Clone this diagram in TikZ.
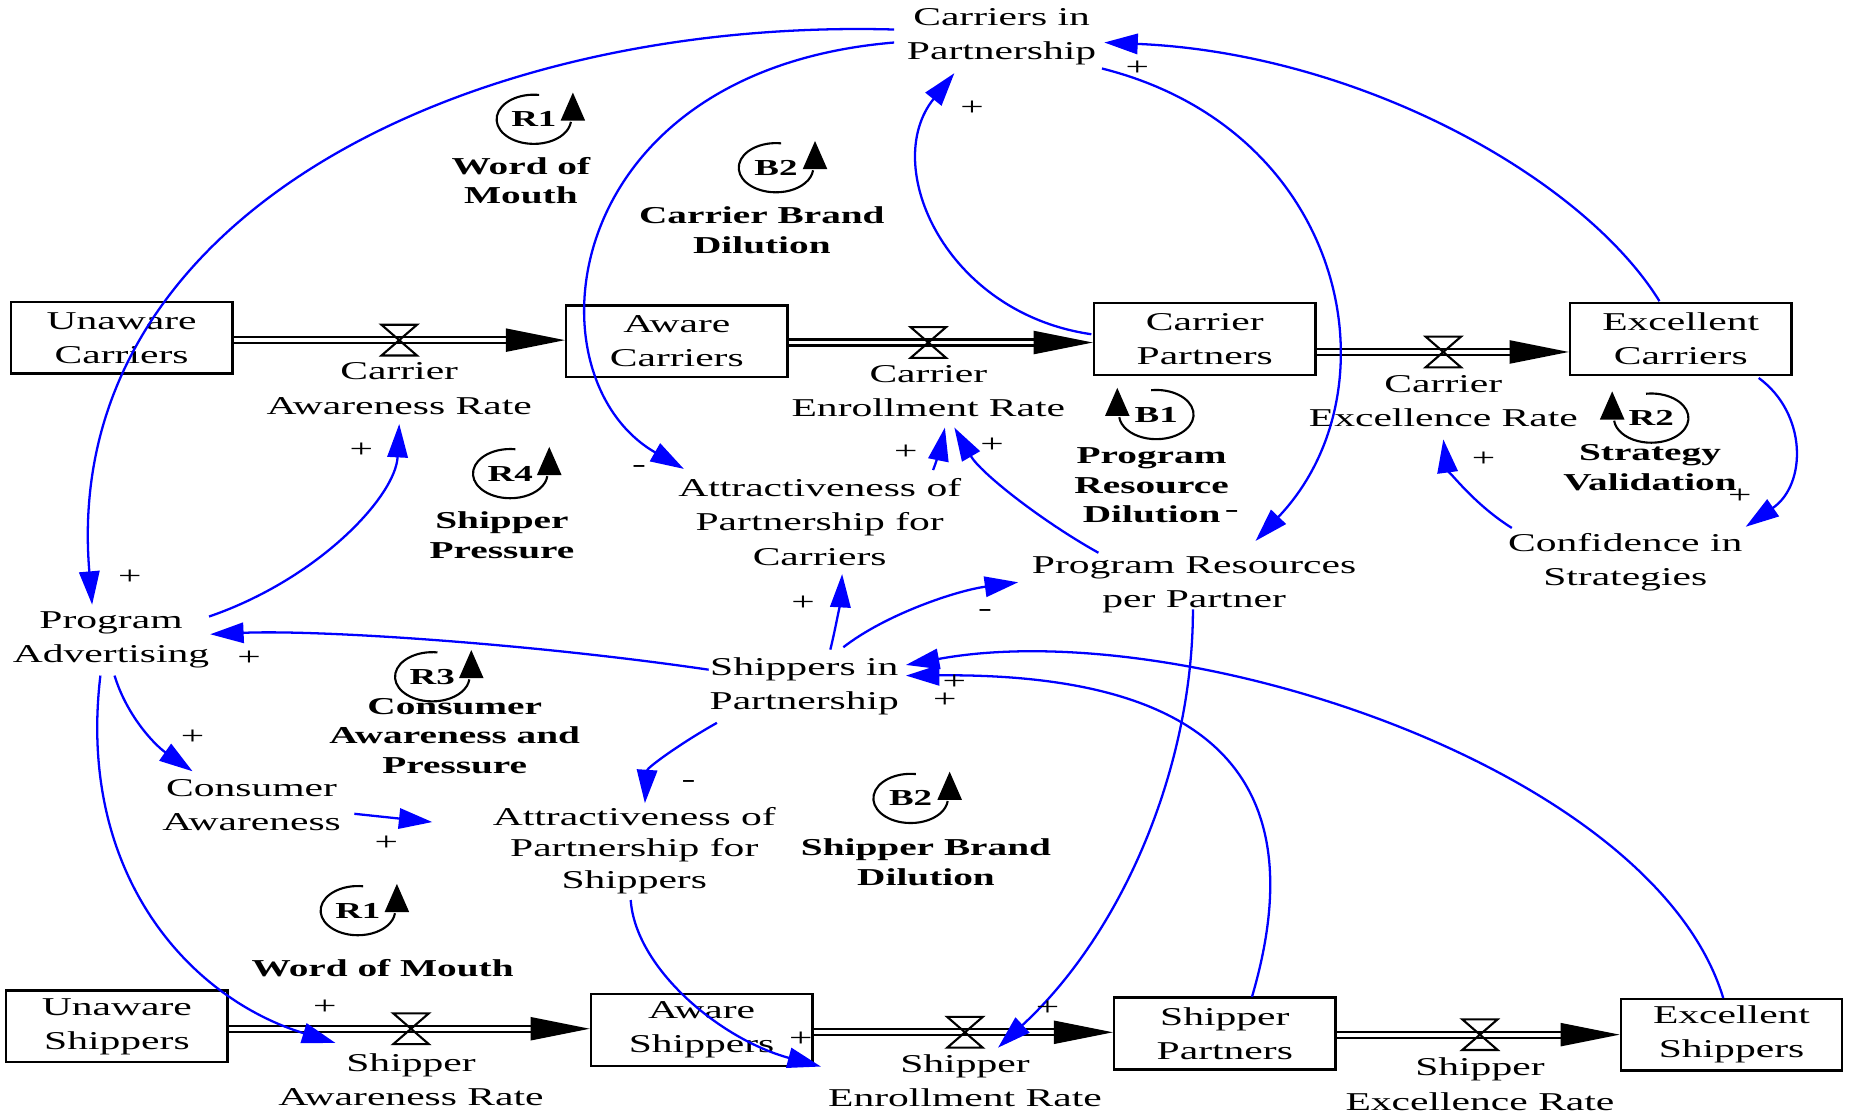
\documentclass[tikz,border=0pt]{standalone}
\usepackage{fontspec}
\setmainfont{Liberation Serif}[FakeStretch=1.62]
\usetikzlibrary{arrows.meta,calc}

\newcommand{\LoopR}[3]{%
  \draw[loopl] ([shift={(82:10.6pt and 7pt)}]#2) arc[start angle=82,end angle=354,x radius=10.6pt,y radius=7pt];
  \fill ([shift={(7.6pt,-0.4pt)}]#2) -- ++(7pt,0pt) -- ++(-3.5pt,8pt) -- cycle;
  \node[lid] (#1) at (#2) {#3};}
\newcommand{\LoopL}[3]{%
  \draw[loopl] ([shift={(98:10.6pt and 7pt)}]#2) arc[start angle=98,end angle=-174,x radius=10.6pt,y radius=7pt];
  \fill ([shift={(-7.6pt,-0.4pt)}]#2) -- ++(-7pt,0pt) -- ++(3.5pt,8pt) -- cycle;
  \node[lid] (#1) at (#2) {#3};}
\newcommand{\Flow}[3]{%
  \draw[pipe] (#1.east |- #3) -- (#2.west |- #3);
  \fill (#2.west |- #3) -- ++(-50,-10) -- ++(0,20) -- cycle;
  \draw[valve] (#3) ++(-15,-13) -- ++(30,0) -- (#3) -- cycle (#3) ++(-15,13) -- ++(30,0) -- (#3) -- cycle;}

\begin{document}
\begin{tikzpicture}[x=0.01181cm,y=-0.01181cm,
  aux/.style={align=center,inner sep=0pt,font=\fontsize{7.3}{9.7}\selectfont},
  stock/.style={draw,line width=0.7pt,minimum width=63pt,minimum height=20.4pt,inner sep=0pt,align=center,font=\fontsize{7.3}{9.7}\selectfont},
  lname/.style={align=center,inner sep=0pt,font=\fontsize{6.9}{8.4}\selectfont\bfseries},
  lid/.style={inner sep=0pt,font=\fontsize{6.5}{7}\selectfont\bfseries},
  sgn/.style={inner sep=0pt,font=\fontsize{7.3}{8}\selectfont},
  link/.style={draw=blue,line width=0.65pt,-{Triangle[length=9.5pt,width=5.8pt]}},
  pipe/.style={double,double distance=1.1pt,line width=0.6pt,shorten >=12pt},
  valve/.style={line width=0.6pt},
  loopl/.style={line width=0.6pt}]

\fill[white] (0,0) rectangle (1568,941);
\useasboundingbox (0,0) rectangle (1568,941);

% stocks
\node[stock] (uc) at (103,286) {Unaware\\Carriers};
\node[stock] (ac) at (573,289) {Aware\\Carriers};
\node[stock] (cp) at (1020,287) {Carrier\\Partners};
\node[stock] (ec) at (1423,287) {Excellent\\Carriers};
\node[stock] (us) at (99,869) {Unaware\\Shippers};
\node[stock] (aws) at (594,872) {Aware\\Shippers};
\node[stock] (shp) at (1037,875) {Shipper\\Partners};
\node[stock] (exs) at (1466,876) {Excellent\\Shippers};

% valves and flows
\coordinate (v1) at (338,288);
\coordinate (v2) at (786,290);
\coordinate (v3) at (1222,298);
\coordinate (v4) at (348,871);
\coordinate (v5) at (817,874);
\coordinate (v6) at (1253,876);
\Flow{uc}{ac}{v1}
\Flow{ac}{cp}{v2}
\Flow{cp}{ec}{v3}
\Flow{us}{aws}{v4}
\Flow{aws}{shp}{v5}
\Flow{shp}{exs}{v6}

% rate labels
\node[aux] (car) at (338,329) {Carrier\\Awareness Rate};
\node[aux] (cer) at (786,331) {Carrier\\Enrollment Rate};
\node[aux] (cxr) at (1222,340) {Carrier\\Excellence Rate};
\node[aux] (sar) at (348,914) {Shipper\\Awareness Rate};
\node[aux] (ser) at (817,915) {Shipper\\Enrollment Rate};
\node[aux] (sxr) at (1253,918) {Shipper\\Excellence Rate};

% auxiliaries
\node[aux] (cip) at (848,31) {Carriers in\\Partnership};
\node[aux] (pa) at (94,542) {Program\\Advertising};
\node[aux] (ca) at (213,682) {Consumer\\Awareness};
\node[aux] (apc) at (694,442) {Attractiveness of\\Partnership for\\Carriers};
\node[aux,font=\fontsize{7.3}{9}\selectfont] (aps) at (537,720) {Attractiveness of\\Partnership for\\Shippers};
\node[aux] (prp) at (1011,495) {Program Resources\\per Partner};
\node[aux] (cis) at (1376,476) {Confidence in\\Strategies};
\node[aux] (sip) at (681,581) {Shippers in\\Partnership};

% causal links
\draw[link] ($(cip)+(-91,-6)$) .. controls (400,15) and (50,180) .. ($(pa)+(-16,-30)$);
\draw[link] ($(cip)+(-91,5)$) .. controls (470,60) and (445,320) .. ($(apc)+(-115,-45)$);
\draw[link] ($(cp)+(-96,-4)$) .. controls (800,265) and (745,140) .. ($(cip)+(-40,31)$);
\draw[link] ($(ec)+(-18,-32)$) .. controls (1340,150) and (1150,45) .. ($(cip)+(87,5)$);
\draw[link] ($(cip)+(85,27)$) .. controls (1140,110) and (1185,330) .. ($(prp)+(52,-37)$);
\draw[link] ($(ec)+(66,33)$) .. controls (1530,350) and (1530,410) .. ($(cis)+(102,-30)$);
\draw[link] ($(cis)+(-96,-29)$) .. controls (1245,425) and (1225,395) .. ($(cxr)+(0,32)$);
\draw[link] ($(pa)+(83,-20)$) .. controls (270,490) and (335,420) .. ($(car)+(0,30)$);
\draw[link] ($(sip)+(-81,-14)$) .. controls (450,545) and (270,533) .. ($(pa)+(84,-5)$);
\draw[link] ($(pa)+(3,30)$) .. controls (107,605) and (130,630) .. ($(ca)+(-50,-29)$);
\draw[link] ($(pa)+(-9,30)$) .. controls (65,740) and (160,845) .. ($(sar)+(-64,-31)$);
\draw[link] ($(ca)+(87,7)$) -- ($(aps)+(-171,-24)$);
\draw[link] ($(sip)+(-74,31)$) .. controls (575,630) and (548,650) .. ($(aps)+(9,-40)$);
\draw[link] ($(aps)+(-3,42)$) .. controls (538,820) and (610,880) .. ($(ser)+(-122,-12)$);
\draw[link] ($(apc)+(96,-44)$) .. controls (795,385) and (798,372) .. ($(cer)+(14,31)$);
\draw[link] ($(prp)+(-81,-27)$) .. controls (880,440) and (830,400) .. ($(cer)+(22,31)$);
\draw[link] ($(sip)+(22,-31)$) .. controls (708,530) and (712,505) .. ($(apc)+(19,44)$);
\draw[link] ($(sip)+(33,-33)$) .. controls (750,520) and (810,500) .. ($(prp)+(-149,-2)$);
\draw[link] ($(prp)+(-1,21)$) .. controls (1010,650) and (950,790) .. ($(ser)+(28,-28)$);
\draw[link] ($(exs)+(-7,-31)$) .. controls (1400,650) and (1000,520) .. ($(sip)+(86,-18)$);
\draw[link] ($(shp)+(23,-31)$) .. controls (1120,640) and (1000,570) .. ($(sip)+(86,-9)$);

% polarity signs
\node[sgn] (s1) at (110,489) {+};
\node[sgn] (s2) at (541,397) {-};
\node[sgn] (s3) at (823,92) {+};
\node[sgn] (s4) at (963,58) {+};
\node[sgn] (s5) at (1043,435) {-};
\node[sgn] (s6) at (1473,420) {+};
\node[sgn] (s7) at (1256,389) {+};
\node[sgn] (s8) at (306,381) {+};
\node[sgn] (s9) at (211,557) {+};
\node[sgn] (s10) at (163,624) {+};
\node[sgn] (s11) at (275,853) {+};
\node[sgn] (s12) at (327,714) {+};
\node[sgn] (s13) at (583,664) {-};
\node[sgn] (s14) at (678,880) {+};
\node[sgn] (s15) at (767,383) {+};
\node[sgn] (s16) at (840,377) {+};
\node[sgn] (s17) at (680,511) {+};
\node[sgn] (s18) at (834,519) {-};
\node[sgn] (s19) at (887,854) {+};
\node[sgn] (s20) at (808,578) {+};
\node[sgn] (s21) at (800,593) {+};

% loop markers
\LoopR{R1a}{452,101}{R1}
\node[lname] (R1aname) at (441,153) {Word of\\Mouth};
\LoopR{B2a}{657,142}{B2}
\node[lname] (B2aname) at (645,195) {Carrier Brand\\Dilution};
\LoopL{B1}{979,351}{B1}
\node[lname] (B1name) at (975,411) {Program\\Resource\\Dilution};
\LoopL{R2}{1398,354}{R2}
\node[lname] (R2name) at (1397,396) {Strategy\\Validation};
\LoopR{R4}{432,401}{R4}
\node[lname] (R4name) at (425,453) {Shipper\\Pressure};
\LoopR{R3}{366,573}{R3}
\node[lname] (R3name) at (385,623) {Consumer\\Awareness and\\Pressure};
\LoopR{B2b}{771,676}{B2}
\node[lname] (B2bname) at (784,730) {Shipper Brand\\Dilution};
\LoopR{R1b}{303,771}{R1}
\node[lname] (R1bname) at (324,820) {Word of Mouth};

\end{tikzpicture}
\end{document}
